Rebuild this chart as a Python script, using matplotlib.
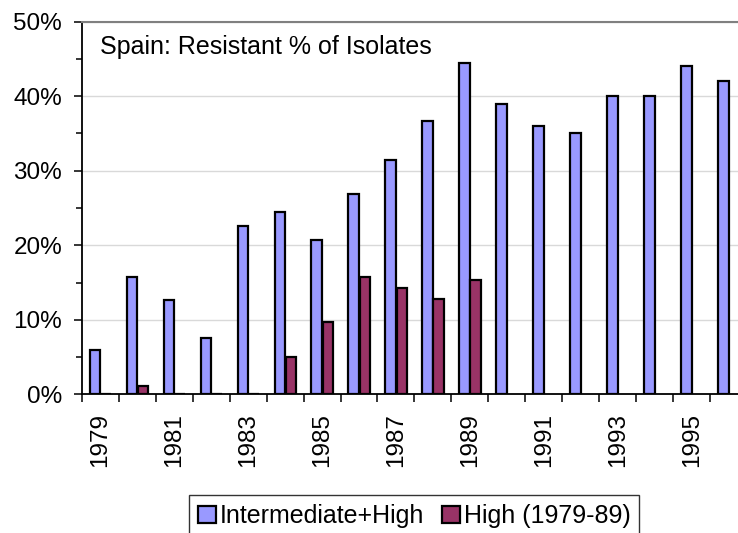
import matplotlib
matplotlib.use("Agg")
import matplotlib.pyplot as plt
import numpy as np
from matplotlib.ticker import FixedLocator, MultipleLocator, PercentFormatter

plt.rcParams['font.family'] = ['Liberation Sans', 'DejaVu Sans']

# data
years = list(range(1979, 1997))
inter_high = [6.0, 15.8, 12.7, 7.5, 22.6, 24.5, 20.7, 26.9, 31.5, 36.7, 44.4,
              39.0, 36.0, 35.0, 40.0, 40.0, 44.0, 42.0]
high = [0, 1.1, 0, 0, 0, 5.0, 9.7, 15.8, 14.2, 12.8, 15.4,
        np.nan, np.nan, np.nan, np.nan, np.nan, np.nan, np.nan]
series_labels = ["Intermediate+High", "High (1979-89)"]
title_text = "Spain: Resistant % of Isolates"

W, H = 738, 533
fig = plt.figure(figsize=(W / 100, H / 100), dpi=100)
# plot area runs past the right edge of the image, as in the reference
ax = fig.add_axes([81.7 / W, 1 - 394.3 / H, 665.5 / W, (394.3 - 21.7) / H])

x = np.arange(len(years))
bw = 0.29
ax.bar(x - 0.14, inter_high, bw, color='#9999FF', edgecolor='black',
       linewidth=1.6, label=series_labels[0], zorder=3)
ax.bar(x + 0.16, high, bw, color='#993366', edgecolor='black',
       linewidth=1.6, label=series_labels[1], zorder=3)

ax.set_xlim(-0.5, len(years) - 0.5)
ax.set_ylim(0, 50)

# y axis
ax.yaxis.set_major_locator(MultipleLocator(10))
ax.yaxis.set_minor_locator(MultipleLocator(5))
ax.yaxis.set_major_formatter(PercentFormatter(decimals=0))
ax.tick_params(axis='y', which='major', direction='out', length=7.7 * 0.72,
               width=1.1, labelsize=17.5, pad=8.5)
ax.tick_params(axis='y', which='minor', direction='out', length=5.7 * 0.72,
               width=1.1)
ax.grid(axis='y', which='major', color='#d9d9d9', linewidth=1.0, zorder=0)

# x axis: ticks on category edges, labels on every other category centre
ax.xaxis.set_major_locator(FixedLocator(np.arange(-0.5, len(years), 1.0)))
ax.xaxis.set_major_formatter(plt.NullFormatter())
ax.xaxis.set_minor_locator(FixedLocator(x[::2]))
ax.set_xticklabels([str(y) for y in years[::2]], minor=True, rotation=90,
                   va='top', ha='center')
ax.tick_params(axis='x', which='major', direction='out', length=7.7 * 0.72,
               width=1.1)
ax.tick_params(axis='x', which='minor', length=0, labelsize=17.5, pad=13.5)

for side in ['left', 'bottom']:
    ax.spines[side].set_color('black')
    ax.spines[side].set_linewidth(1.3)
ax.spines['top'].set_color('#808080')
ax.spines['top'].set_linewidth(1.5)
ax.spines['right'].set_visible(False)

fig.text(100 / W, 1 - 54.3 / H, title_text, fontsize=18, va='baseline',
         ha='left')

leg = fig.legend(loc='upper left', bbox_to_anchor=(189 / W, 1 - 495 / H),
                 ncol=2, fontsize=18, frameon=True, fancybox=False,
                 edgecolor='black', handlelength=0.7, handleheight=0.7,
                 handletextpad=0.15, columnspacing=0.75, borderpad=0.36,
                 borderaxespad=0)
leg.get_frame().set_linewidth(1.0)

fig.savefig("out.png", dpi=100)
